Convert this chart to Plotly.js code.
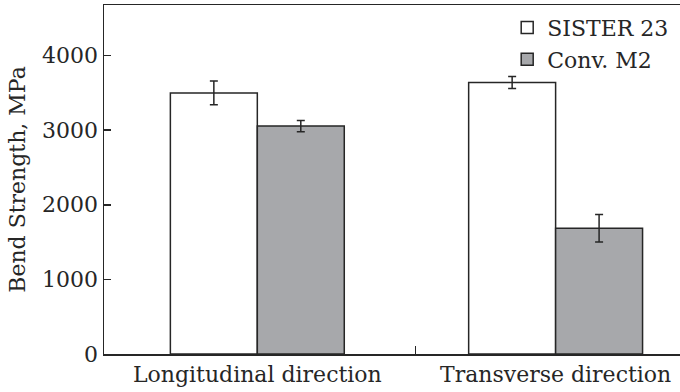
<!DOCTYPE html>
<html>
<head>
<meta charset="utf-8">
<script src="https://cdn.plot.ly/plotly-3.0.1.min.js"></script>
<style>html,body{margin:0;padding:0;background:#fff;}#chart{width:680px;height:392px;}</style>
</head>
<body>
<div id="chart"></div>
<script>
const categories = ["Longitudinal direction", "Transverse direction"];
const seriesNames = ["SISTER 23", "Conv. M2"];
const sisterValues = [3500, 3640];
const sisterErrors = [160, 80];
const convValues = [3055, 1685];
const convErrors = [75, 185];
const yTickVals = [0, 1000, 2000, 3000, 4000];
const dividerTick = [0.53];

const FONT = "'DejaVu Serif', 'Liberation Serif', serif";
const INK = "#262626";
const FS = 22;

const traces = [
  {
    type: "bar", name: seriesNames[0], x: categories, y: sisterValues,
    marker: {color: "#ffffff", line: {color: INK, width: 1.5}},
    error_y: {type: "data", array: sisterErrors, visible: true, color: INK, thickness: 1.5, width: 4}
  },
  {
    type: "bar", name: seriesNames[1], x: categories, y: convValues,
    marker: {color: "#a7a8ab", line: {color: INK, width: 1.5}},
    error_y: {type: "data", array: convErrors, visible: true, color: INK, thickness: 1.5, width: 4}
  },
  {
    type: "scatter", x: dividerTick, y: [null], xaxis: "x2", showlegend: false, hoverinfo: "skip"
  }
];

const xRange = [-0.514, 1.417];

const layout = {
  width: 680, height: 392,
  margin: {l: 104, r: 0, t: 5, b: 38, pad: 0},
  paper_bgcolor: "#fff", plot_bgcolor: "#fff",
  font: {family: FONT, size: FS, color: INK},
  barmode: "group", bargap: 0.417, bargroupgap: 0,
  showlegend: true,
  legend: {
    x: 0.70, y: 0.995, xanchor: "left", yanchor: "top",
    bgcolor: "rgba(0,0,0,0)", font: {family: FONT, size: 22, color: INK},
    tracegroupgap: 0
  },
  xaxis: {
    type: "category", range: xRange,
    showline: true, linecolor: INK, linewidth: 1.5, mirror: true,
    ticks: "", showgrid: false, zeroline: false,
    tickfont: {family: FONT, size: FS, color: INK}
  },
  xaxis2: {
    overlaying: "x", anchor: "y", side: "bottom", type: "linear", range: xRange,
    tickvals: dividerTick, showticklabels: false, ticks: "inside", ticklen: 8,
    tickwidth: 1.5, tickcolor: INK, showgrid: false, zeroline: false, showline: false
  },
  yaxis: {
    range: [0, 4678], tickvals: yTickVals,
    showline: true, linecolor: INK, linewidth: 1.5,
    ticks: "inside", ticklen: 7, tickwidth: 1.5, tickcolor: INK,
    showgrid: false, zeroline: false,
    tickfont: {family: FONT, size: FS, color: INK},
    title: {text: "Bend Strength, MPa", font: {family: FONT, size: FS, color: INK}, standoff: 10}
  }
};

Plotly.newPlot("chart", traces, layout, {displayModeBar: false, staticPlot: true});
</script>
</body>
</html>
